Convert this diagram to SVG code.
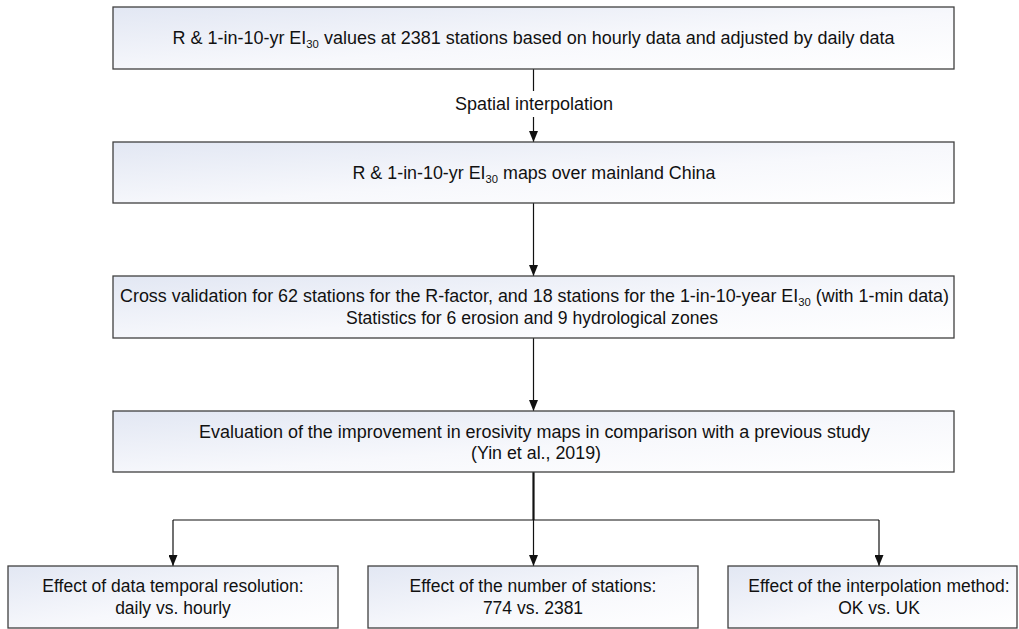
<svg xmlns="http://www.w3.org/2000/svg" width="1019" height="629" viewBox="0 0 1019 629">
<style>
.box{fill:url(#g);stroke:#404040;stroke-width:1.3}
.t{font-family:"Liberation Sans",Arial,sans-serif;font-size:17.5px;fill:#111;text-anchor:middle}
.c{stroke:#111;stroke-width:1.2;fill:none}
.sub{font-size:11px}
</style>
<defs>
<linearGradient id="g" x1="0" y1="0" x2="1" y2="1">
<stop offset="0" stop-color="#e2e7f3"/>
<stop offset="0.55" stop-color="#f7f8fc"/>
<stop offset="1" stop-color="#ffffff"/>
</linearGradient>
<marker id="a" markerWidth="11" markerHeight="9" refX="11" refY="4.5" orient="auto" markerUnits="userSpaceOnUse" viewBox="0 0 11 9">
<path d="M0,0 L11,4.5 L0,9 Z" fill="#111"/>
</marker>
</defs>
<g id="connectors">
<line class="c" x1="533.5" y1="69" x2="533.5" y2="91"/>
<line class="c" x1="533.5" y1="117" x2="533.5" y2="142" marker-end="url(#a)"/>
<line class="c" x1="533.5" y1="203" x2="533.5" y2="276" marker-end="url(#a)"/>
<line class="c" x1="533.5" y1="338" x2="533.5" y2="411" marker-end="url(#a)"/>
<line class="c" x1="533.5" y1="472" x2="533.5" y2="520" style="stroke-width:2.2"/>
<line class="c" x1="173" y1="520" x2="879" y2="520"/>
<line class="c" x1="173" y1="520" x2="173" y2="566" marker-end="url(#a)"/>
<line class="c" x1="533.5" y1="520" x2="533.5" y2="566" marker-end="url(#a)"/>
<line class="c" x1="879" y1="520" x2="879" y2="566" marker-end="url(#a)"/>
<text class="t" x="534" y="110" textLength="158" lengthAdjust="spacingAndGlyphs">Spatial interpolation</text>
</g>
<g id="n1">
<rect class="box" x="113" y="7" width="841" height="62"/>
<text class="t" x="533.5" y="44" textLength="722" lengthAdjust="spacingAndGlyphs">R &amp; 1-in-10-yr EI<tspan class="sub" dy="4">30</tspan><tspan dy="-4"> values at 2381 stations based on hourly data and adjusted by daily data</tspan></text>
</g>
<g id="n2">
<rect class="box" x="113" y="142" width="841" height="61"/>
<text class="t" x="534" y="179" textLength="363" lengthAdjust="spacingAndGlyphs">R &amp; 1-in-10-yr EI<tspan class="sub" dy="4">30</tspan><tspan dy="-4"> maps over mainland China</tspan></text>
</g>
<g id="n3">
<rect class="box" x="113" y="276" width="841" height="62"/>
<text class="t" x="534.5" y="302" textLength="829" lengthAdjust="spacingAndGlyphs">Cross validation for 62 stations for the R-factor, and 18 stations for the 1-in-10-year EI<tspan class="sub" dy="4">30</tspan><tspan dy="-4"> (with 1-min data)</tspan></text>
<text class="t" x="532" y="324" textLength="372" lengthAdjust="spacingAndGlyphs">Statistics for 6 erosion and 9 hydrological zones</text>
</g>
<g id="n4">
<rect class="box" x="113" y="411" width="841" height="61"/>
<text class="t" x="534.5" y="438" textLength="671" lengthAdjust="spacingAndGlyphs">Evaluation of the improvement in erosivity maps in comparison with a previous study</text>
<text class="t" x="536" y="459" textLength="130" lengthAdjust="spacingAndGlyphs">(Yin et al., 2019)</text>
</g>
<g id="n5">
<rect class="box" x="8" y="566" width="330" height="62"/>
<text class="t" x="173" y="592">Effect of data temporal resolution:</text>
<text class="t" x="173" y="614">daily vs. hourly</text>
</g>
<g id="n6">
<rect class="box" x="368" y="566" width="330" height="62"/>
<text class="t" x="533" y="592">Effect of the number of stations:</text>
<text class="t" x="533" y="614">774 vs. 2381</text>
</g>
<g id="n7">
<rect class="box" x="728" y="566" width="289" height="62"/>
<text class="t" x="879" y="592">Effect of the interpolation method:</text>
<text class="t" x="879" y="614">OK vs. UK</text>
</g>
</svg>
